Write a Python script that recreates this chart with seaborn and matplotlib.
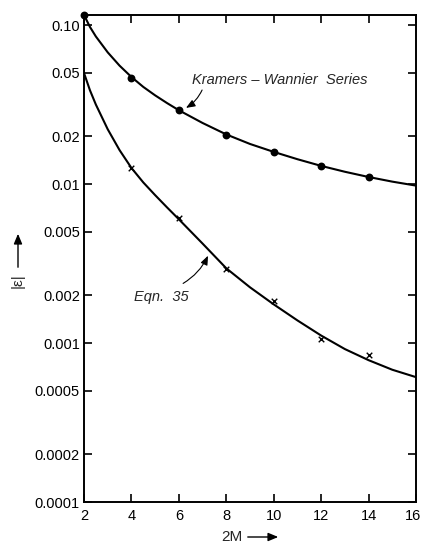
import matplotlib
matplotlib.use("Agg")
import matplotlib.pyplot as plt
import seaborn as sns
import pandas as pd
from matplotlib.ticker import FixedLocator, FixedFormatter, NullLocator
from matplotlib.transforms import ScaledTranslation

# ---- data ----
m_points = [2, 4, 6, 8, 10, 12, 14]
kw_points = [0.1156, 0.0463, 0.0292, 0.0203, 0.0159, 0.0130, 0.0111]
eq_m_points = [4, 6, 8, 10, 12, 14]
eq_points = [0.0126, 0.0061, 0.0029, 0.00184, 0.00106, 0.00084]

kw_curve_m = [2, 2.25, 2.5, 3, 3.5, 4, 4.5, 5, 5.5, 6, 7, 8, 9, 10, 11, 12, 13, 14, 15, 16]
kw_curve = [0.1156, 0.0973, 0.0847, 0.0673, 0.0555, 0.0471, 0.0408, 0.0361, 0.0323,
            0.0291, 0.0242, 0.0205, 0.01786, 0.01592, 0.01432, 0.0130, 0.01194,
            0.01107, 0.01035, 0.00977]
eq_curve_m = [2, 2.25, 2.5, 3, 3.5, 4, 4.5, 5, 5.5, 6, 7, 8, 9, 10, 11, 12, 13, 14, 15, 16]
eq_curve = [0.0499, 0.0389, 0.0316, 0.0221, 0.01633, 0.01262, 0.01023, 0.00851,
            0.00713, 0.0060, 0.00422, 0.00295, 0.00224, 0.00175, 0.001387, 0.001114,
            0.000916, 0.00078, 0.000679, 0.00061]

x_ticks = [2, 4, 6, 8, 10, 12, 14, 16]
y_ticks = [0.10, 0.05, 0.02, 0.01, 0.005, 0.002, 0.001, 0.0005, 0.0002, 0.0001]
y_ticklabels = ["0.10", "0.05", "0.02", "0.01", "0.005", "0.002", "0.001",
                "0.0005", "0.0002", "0.0001"]

sns.set_theme(style="ticks")
plt.rcParams['font.family'] = ['Liberation Sans', 'DejaVu Sans']

W, H = 421, 545
fig = plt.figure(figsize=(W / 100, H / 100), dpi=100)
ax = fig.add_axes([84 / W, 1 - 502 / H, 332 / W, 487 / H])

curve_df = pd.DataFrame({"M": kw_curve_m + eq_curve_m,
                         "E": kw_curve + eq_curve,
                         "s": ["kw"] * len(kw_curve_m) + ["eq"] * len(eq_curve_m)})
sns.lineplot(data=curve_df, x="M", y="E", units="s", estimator=None,
             color="black", lw=1.5, ax=ax, legend=False)

ax.set_yscale("log")
sns.scatterplot(x=m_points, y=kw_points, ax=ax, color="black", s=32,
                marker="o", edgecolor="black", linewidth=0, zorder=5, clip_on=False)
sns.scatterplot(x=eq_m_points, y=eq_points, ax=ax, color="black", s=16,
                marker="x", linewidth=1.0, zorder=5)

ax.set_xlim(2, 16)
ax.set_ylim(1e-4, 0.1156)

ax.xaxis.set_major_locator(FixedLocator(x_ticks))
ax.yaxis.set_major_locator(FixedLocator(y_ticks))
ax.yaxis.set_major_formatter(FixedFormatter(y_ticklabels))
ax.yaxis.set_minor_locator(NullLocator())
ax.tick_params(axis="both", which="major", direction="in", length=6, width=1.2,
               top=True, right=True, labelsize=10.5, colors="black", pad=5)
ax.tick_params(axis="y", pad=3)
for sp in ax.spines.values():
    sp.set_linewidth(1.4)
    sp.set_color("black")

fig.canvas.draw()
lab16 = ax.get_xticklabels()[-1]
lab16.set_transform(lab16.get_transform() + ScaledTranslation(-3 / 100, 0, fig.dpi_scale_trans))

ax.set_xlabel("")
ax.set_ylabel("")

# axis labels with arrows
fig.text(221 / W, 1 - 537 / H, "2M", ha="left", va="center", fontsize=11)
fig.add_artist(matplotlib.patches.FancyArrowPatch(
    (245 / W, 1 - 537 / H), (281 / W, 1 - 537 / H), transform=fig.transFigure,
    arrowstyle="-|>,head_length=6,head_width=2.5", color="black", lw=1.0))
fig.text(18 / W, 1 - 281 / H, "|\u03b5|", ha="center", va="center", fontsize=11,
         rotation=90)
fig.add_artist(matplotlib.patches.FancyArrowPatch(
    (18 / W, 1 - 270 / H), (18 / W, 1 - 231 / H), transform=fig.transFigure,
    arrowstyle="-|>,head_length=6,head_width=2.5", color="black", lw=1.0))

# annotations
ax.text(6.55, 0.0451, "Kramers \u2013 Wannier  Series", fontsize=10.5, style="italic",
        ha="left", va="center")
ax.annotate("", xy=(6.3, 0.0301), xytext=(6.98, 0.039),
            arrowprops=dict(arrowstyle="-|>,head_length=0.45,head_width=0.18",
                            color="black", lw=0.8, connectionstyle="arc3,rad=-0.15",
                            shrinkA=0, shrinkB=0))
ax.text(4.11, 0.00195, "Eqn.  35", fontsize=10.5, style="italic",
        ha="left", va="center")
ax.annotate("", xy=(7.23, 0.00354), xytext=(6.18, 0.00237),
            arrowprops=dict(arrowstyle="-|>,head_length=0.45,head_width=0.18",
                            color="black", lw=0.8, connectionstyle="arc3,rad=0.15",
                            shrinkA=0, shrinkB=0))

fig.savefig("out.png", dpi=100)
